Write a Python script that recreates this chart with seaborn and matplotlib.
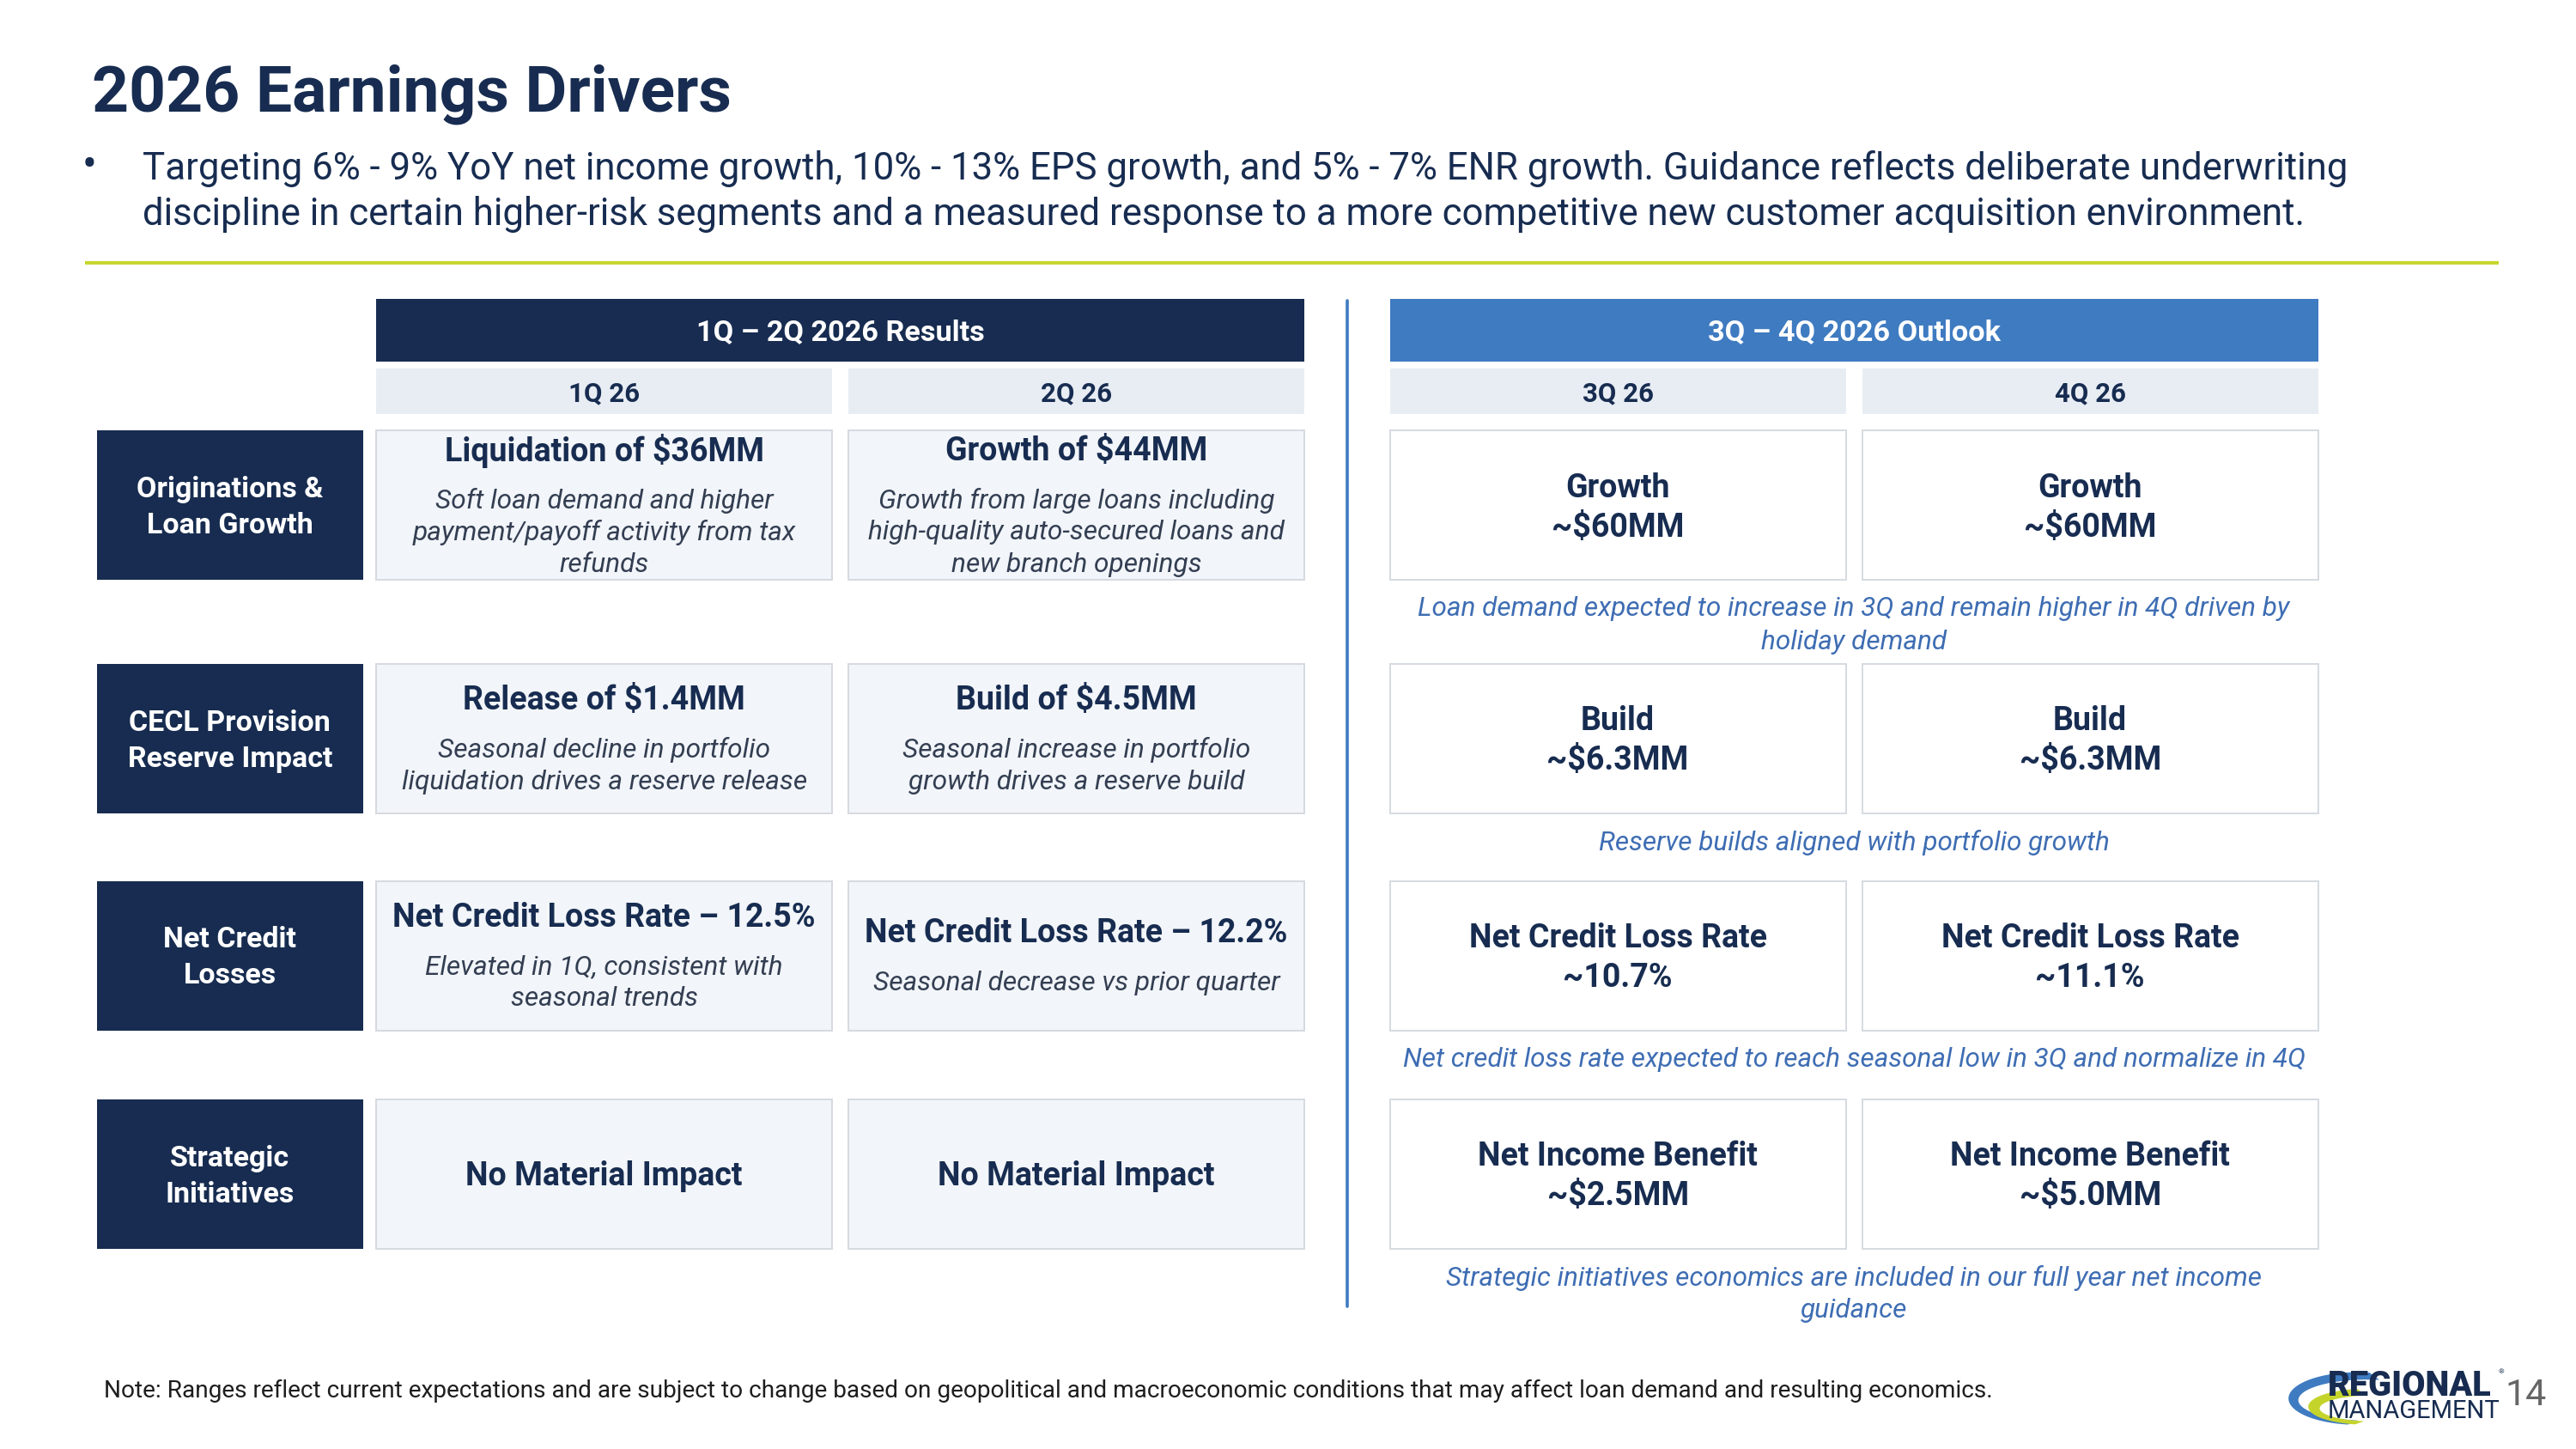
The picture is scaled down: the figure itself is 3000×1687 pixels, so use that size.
import numpy as np
import matplotlib
matplotlib.use("Agg")
import matplotlib.pyplot as plt
from matplotlib.patches import Rectangle, Polygon
import seaborn as sns

sns.set_theme(style="white")
plt.rcParams["font.family"] = ["Roboto", "DejaVu Sans"]

# ---- slide content ----
title = "2026 Earnings Drivers"
bullet_lines = [
    "Targeting 6% - 9% YoY net income growth, 10% - 13% EPS growth, and 5% - 7% ENR growth. Guidance reflects deliberate underwriting",
    "discipline in certain higher-risk segments and a measured response to a more competitive new customer acquisition environment.",
]
period_groups = ["1Q \u2013 2Q 2026 Results", "3Q \u2013 4Q 2026 Outlook"]
quarters = ["1Q 26", "2Q 26", "3Q 26", "4Q 26"]
row_labels = [
    ["Originations &", "Loan Growth"],
    ["CECL Provision", "Reserve Impact"],
    ["Net Credit", "Losses"],
    ["Strategic", "Initiatives"],
]
result_titles = [
    ["Liquidation of $36MM", "Growth of $44MM"],
    ["Release of $1.4MM", "Build of $4.5MM"],
    ["Net Credit Loss Rate \u2013 12.5%", "Net Credit Loss Rate \u2013 12.2%"],
    ["No Material Impact", "No Material Impact"],
]
result_details = [
    [["Soft loan demand and higher", "payment/payoff activity from tax", "refunds"],
     ["Growth from large loans including", "high-quality auto-secured loans and", "new branch openings"]],
    [["Seasonal decline in portfolio", "liquidation drives a reserve release"],
     ["Seasonal increase in portfolio", "growth drives a reserve build"]],
    [["Elevated in 1Q, consistent with", "seasonal trends"],
     ["Seasonal decrease vs prior quarter"]],
    [[], []],
]
outlook_metric = [
    ["Growth", "Growth"],
    ["Build", "Build"],
    ["Net Credit Loss Rate", "Net Credit Loss Rate"],
    ["Net Income Benefit", "Net Income Benefit"],
]
outlook_value = [
    ["~$60MM", "~$60MM"],
    ["~$6.3MM", "~$6.3MM"],
    ["~10.7%", "~11.1%"],
    ["~$2.5MM", "~$5.0MM"],
]
outlook_notes = [
    ["Loan demand expected to increase in 3Q and remain higher in 4Q driven by", "holiday demand"],
    ["Reserve builds aligned with portfolio growth"],
    ["Net credit loss rate expected to reach seasonal low in 3Q and normalize in 4Q"],
    ["Strategic initiatives economics are included in our full year net income", "guidance"],
]
footnote = ("Note: Ranges reflect current expectations and are subject to change based on geopolitical "
            "and macroeconomic conditions that may affect loan demand and resulting economics.")
page_number = "14"

# ---- colours ----
NAVY = "#172C50"
BLUE = "#3F7BC1"
NOTE_BLUE = "#3E6DB3"
DESC = "#333E52"
SUB_FILL = "#E8EDF4"
CELL_FILL = "#F2F5F9"
EDGE = "#D5DAE1"
LIME = "#C8D62E"

STYLES = {
    "head": dict(fontsize=27, fontweight="bold", color=NAVY),
    "desc": dict(fontsize=22.8, fontstyle="italic", color=DESC),
    "big": dict(fontsize=27, fontweight="bold", color=NAVY),
    "label": dict(fontsize=24.5, fontweight="bold", color="white"),
    "note": dict(fontsize=22.7, fontstyle="italic", color=NOTE_BLUE),
}
GAPS = {("head", "desc"): 30, ("desc", "desc"): 19.5, ("big", "big"): 24,
        ("label", "label"): 22, ("note", "note"): 20}
DY = 1.5  # text sits a touch lower than its bbox centre

# layout in slide units (1568 wide)
W = 1568
H = 1687 * W / 3000
row_top = [262, 404, 536, 669]
row_h = 91
col_x = [229, 516.5, 846, 1133.5]
col_w = 277.5

fig = plt.figure(figsize=(30, 16.87), dpi=100)
ax = fig.add_axes([0, 0, 1, 1])
ax.set_xlim(0, W)
ax.set_ylim(H, 0)
ax.axis("off")


def stack(x, yc, items):
    offs = [0.0]
    for (_, a), (_, b) in zip(items[:-1], items[1:]):
        offs.append(offs[-1] + GAPS[(a, b)])
    shift = yc - offs[-1] / 2 + DY
    for (txt, st), o in zip(items, offs):
        ax.text(x, shift + o, txt, ha="center", va="center", **STYLES[st])


def box(x, y, w, h, fc, ec="none", lw=0):
    ax.add_patch(Rectangle((x, y), w, h, facecolor=fc, edgecolor=ec, linewidth=lw))


# title + bullet
ax.text(56, 57.5, title, fontsize=54, fontweight="bold", color=NAVY, ha="left", va="center")
ax.text(50, 101, "\u2022", fontsize=36, color=NAVY, ha="left", va="center")
for i, line in enumerate(bullet_lines):
    ax.text(87, 101 + DY + 28 * i, line, fontsize=31.5, color=NAVY, ha="left", va="center")
ax.plot([52, 1521], [160, 160], color=LIME, lw=3, solid_capstyle="butt")

# period headers
for g, label in enumerate(period_groups):
    x0 = col_x[2 * g]
    box(x0, 182, col_x[2 * g + 1] + col_w - x0, 38, NAVY if g == 0 else BLUE)
    ax.text(x0 + (col_x[2 * g + 1] + col_w - x0) / 2, 201 + DY, label, fontsize=24.7,
            fontweight="bold", color="white", ha="center", va="center")
for q, label in enumerate(quarters):
    box(col_x[q], 224, col_w, 28, SUB_FILL)
    ax.text(col_x[q] + col_w / 2, 238 + DY, label, fontsize=22.5, fontweight="bold",
            color=NAVY, ha="center", va="center")

# divider
ax.plot([820, 820], [183, 795], color=BLUE, lw=2.6)

for r in range(len(row_labels)):
    y0 = row_top[r]
    yc = y0 + row_h / 2
    box(59, y0, 162, row_h, NAVY)
    stack(140, yc, [(t, "label") for t in row_labels[r]])
    for c in range(2):
        box(col_x[c], y0, col_w, row_h, CELL_FILL, EDGE, 1.4)
        items = [(result_titles[r][c], "head")] + [(t, "desc") for t in result_details[r][c]]
        stack(col_x[c] + col_w / 2, yc, items)
    for c in range(2):
        x0 = col_x[2 + c]
        box(x0, y0, col_w, row_h, "white", EDGE, 1.4)
        stack(x0 + col_w / 2, yc, [(outlook_metric[r][c], "big"), (outlook_value[r][c], "big")])
    for k, line in enumerate(outlook_notes[r]):
        ax.text((col_x[2] + col_x[3] + col_w) / 2, y0 + row_h + 16 + DY + 20 * k, line,
                ha="center", va="center", **STYLES["note"])

# footnote
ax.text(63, 845 + DY, footnote, fontsize=20.2, color="#1E1E1E", ha="left", va="center")

# logo
t = np.linspace(np.radians(80), np.radians(262), 80)
outer = np.c_[1435 + 42 * np.cos(t), 851 - 16 * np.sin(t)]
inner = np.c_[1441 + 42 * np.cos(t[::-1]), 852 - 12.5 * np.sin(t[::-1])]
ax.add_patch(Polygon(np.r_[outer, inner], closed=True, facecolor=BLUE, edgecolor="none"))
t2 = np.linspace(np.radians(100), np.radians(258), 80)
outer2 = np.c_[1441 + 36 * np.cos(t2), 856 - 11 * np.sin(t2)]
inner2 = np.c_[1446 + 34 * np.cos(t2[::-1]), 857 - 8 * np.sin(t2[::-1])]
ax.add_patch(Polygon(np.r_[outer2, inner2], closed=True, facecolor="#C5D42B", edgecolor="none"))
ax.text(1417, 843.5, "REGIONAL", fontsize=28.5, fontweight="black", color=NAVY, ha="left", va="center")
ax.text(1417, 859, "MANAGEMENT", fontsize=21, color=NAVY, ha="left", va="center")
ax.text(1521, 835, "\u00ae", fontsize=6, color=NAVY, ha="left", va="center")
ax.text(1525, 849, page_number, fontsize=31, color="#666666", ha="left", va="center")

fig.savefig("out.png", dpi=100, facecolor="white")
